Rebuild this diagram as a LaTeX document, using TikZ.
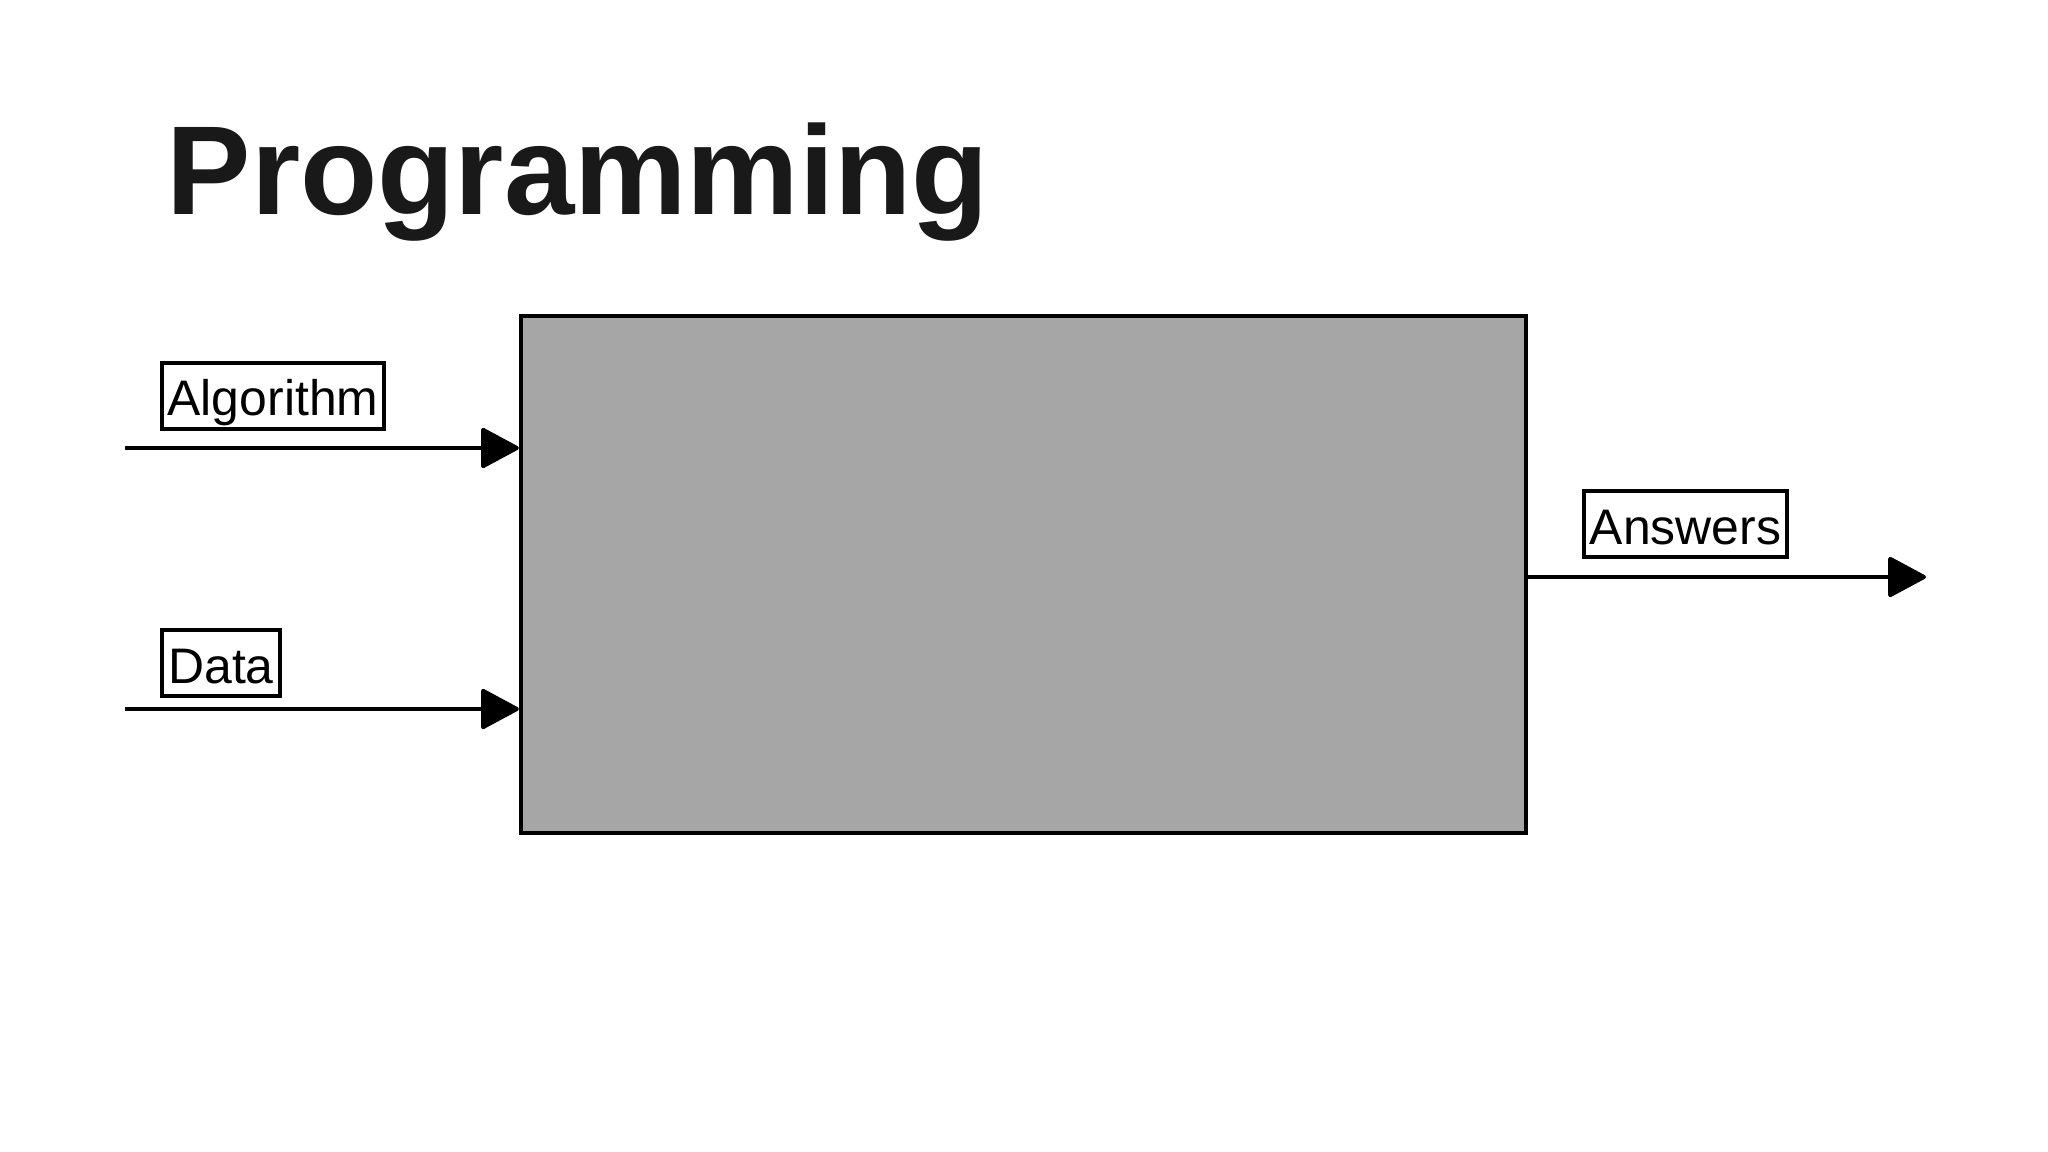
\documentclass[tikz,border=0pt]{standalone}
\usepackage{fontspec}
\setmainfont{Liberation Sans}
\usetikzlibrary{arrows.meta}
\definecolor{boxgray}{HTML}{A6A6A6}

\begin{document}
\begin{tikzpicture}[>={Triangle[length=0.4cm,width=0.42cm,round]},
    label box/.style={draw,line width=1.1pt,inner xsep=0.06cm,inner ysep=0pt,
      text height=0.53cm,text depth=0.13cm,anchor=base,
      font=\fontsize{14.2pt}{16pt}\selectfont},
    flow/.style={->,line width=1.1pt}]
  \useasboundingbox (0,0) rectangle (20.48,-11.52);
  \node[anchor=base west,inner sep=0pt,text=black!90,
    font=\fontsize{36pt}{40pt}\selectfont\bfseries] (title) at (1.66,-2.15) {Programming};
  \node[draw,line width=1.2pt,fill=boxgray,minimum width=10.05cm,minimum height=5.17cm,
    inner sep=0pt] (proc) at (10.235,-5.745) {};
  \node[label box] (alg) at (2.73,-4.16) {Algorithm};
  \node[label box] (data) at (2.21,-6.83) {Data};
  \node[label box] (ans) at (16.855,-5.44) {Answers};
  \coordinate (algin) at (1.25,-4.48);
  \coordinate (datain) at (1.25,-7.09);
  \coordinate (ansout) at (19.26,-5.77);
  \draw[flow] (algin) -- (proc.west |- algin);
  \draw[flow] (datain) -- (proc.west |- datain);
  \draw[flow] (proc.east |- ansout) -- (ansout);
\end{tikzpicture}
\end{document}
